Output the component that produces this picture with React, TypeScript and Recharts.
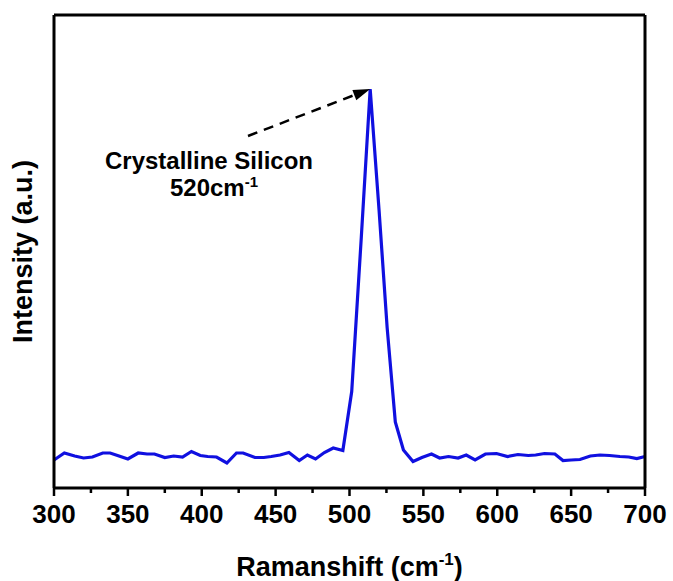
import { LineChart, Line, XAxis, YAxis, ReferenceLine } from "recharts"

// Raman spectrum, values
const ramanShift = [
  300, 307, 314, 320, 326, 333, 338, 344, 350, 357, 363, 368, 375, 381, 387, 393, 399, 404, 410, 417,
  423.5, 428, 436, 442, 447, 453, 459, 466, 471.5, 477, 483, 489, 495.5, 501.5, 508, 514, 520, 525.5,
  531, 536.5, 543, 549, 555.5, 561, 567, 573.5, 579, 585, 592, 599.5, 607, 614, 621, 626, 632, 639,
  644.5, 650, 656, 663, 669.5, 676, 683, 689, 694.5, 700,
]
const intensity = [
  28, 35, 32, 30, 31, 35, 35, 32, 29, 35, 34, 34, 30.5, 32, 31, 36.5, 32.5, 31.5, 31, 25,
  35, 35, 30.5, 30.5, 31.5, 33, 35.5, 27.5, 33, 29, 35.5, 40, 37.5, 96.5, 251, 399, 278, 160,
  66, 38, 26.5, 30.5, 34, 30, 31.5, 30, 33, 28, 34, 34.5, 31.5, 33.5, 32.5, 33, 34.5, 34,
  27.5, 28, 28.5, 32, 33, 32.5, 31.5, 31, 29.5, 31.5,
]
const xTicks = [300, 325, 350, 375, 400, 425, 450, 475, 500, 525, 550, 575, 600, 625, 650, 675, 700]
const majorTicks = [300, 350, 400, 450, 500, 550, 600, 650, 700]

const peakLabel = "Crystalline Silicon"
const arrowFrom = { x: 431.3, y: 352 }
const arrowTo = { x: 514, y: 399 }

const data = ramanShift.map((x, i) => ({ x, y: intensity[i] }))

const FONT = "'Liberation Sans', Arial, sans-serif"
const AXIS_Y = 488

function XTick(props: any) {
  const x = Number(props.x)
  const { payload } = props
  const major = majorTicks.includes(payload.value)
  return (
    <g>
      <path d={`M${x},${AXIS_Y}V${AXIS_Y + (major ? 8 : 5)}`} stroke="#000" strokeWidth={2.5} fill="none" />
      {major && (
        <text x={x} y={AXIS_Y + 35} textAnchor="middle" fontFamily={FONT} fontWeight="bold" fontSize={26} fill="#000">
          {payload.value}
        </text>
      )}
    </g>
  )
}

function XLabel(props: any) {
  const { viewBox } = props
  const cx = viewBox.x + viewBox.width / 2
  return (
    <text x={cx} y={viewBox.y + 88} textAnchor="middle" fontFamily={FONT} fontWeight="bold" fontSize={27} fill="#000">
      Ramanshift (cm
      <tspan dy={-11} fontSize={17}>-1</tspan>
      <tspan dy={11}>)</tspan>
    </text>
  )
}

function YLabel(props: any) {
  const { viewBox } = props
  const cx = 23
  const cy = viewBox.y + viewBox.height / 2
  return (
    <text
      x={cx}
      y={cy}
      transform={`rotate(-90, ${cx}, ${cy})`}
      textAnchor="middle"
      dominantBaseline="central"
      fontFamily={FONT}
      fontWeight="bold"
      fontSize={27}
      fill="#000"
    >
      Intensity (a.u.)
    </text>
  )
}

function Arrow(props: any) {
  const { x1, y1, x2, y2 } = props
  const dx = x2 - x1
  const dy = y2 - y1
  const len = Math.sqrt(dx * dx + dy * dy)
  const ux = dx / len
  const uy = dy / len
  const head = 17
  const half = 5.5
  const bx = x2 - ux * head
  const by = y2 - uy * head
  return (
    <g>
      <line x1={x1} y1={y1} x2={bx} y2={by} stroke="#000" strokeWidth={2.5} strokeDasharray="10 7" />
      <polygon
        points={`${x2},${y2} ${bx - uy * half},${by + ux * half} ${bx + uy * half},${by - ux * half}`}
        fill="#000"
      />
      <text x={x1 - 39} y={y1 + 33} textAnchor="middle" fontFamily={FONT} fontWeight="bold" fontSize={24} fill="#000">
        {peakLabel}
      </text>
      <text x={x1 - 34} y={y1 + 60} textAnchor="middle" fontFamily={FONT} fontWeight="bold" fontSize={24} fill="#000">
        520cm
        <tspan dy={-9} fontSize={15}>-1</tspan>
      </text>
    </g>
  )
}

export default function App() {
  return (
    <div style={{ position: "absolute", left: 0, top: 0, background: "#fff" }}>
      <LineChart width={673} height={581} data={data} margin={{ top: 14, right: 27, left: 14, bottom: 0 }}>
        <XAxis
          dataKey="x"
          type="number"
          domain={[300, 700]}
          ticks={xTicks}
          interval={0}
          height={93}
          tickLine={false}
          tick={<XTick />}
          axisLine={{ stroke: "#000", strokeWidth: 3 }}
          label={<XLabel />}
        />
        <XAxis
          xAxisId="top"
          dataKey="x"
          type="number"
          domain={[300, 700]}
          ticks={[300, 700]}
          orientation="top"
          height={1}
          tick={false}
          tickLine={false}
          axisLine={{ stroke: "#000", strokeWidth: 3 }}
        />
        <YAxis
          type="number"
          domain={[0, 473]}
          ticks={[0, 473]}
          width={40}
          tick={false}
          tickLine={false}
          axisLine={{ stroke: "#000", strokeWidth: 3 }}
          label={<YLabel />}
        />
        <YAxis
          yAxisId="right"
          orientation="right"
          type="number"
          domain={[0, 473]}
          ticks={[0, 473]}
          width={1}
          tick={false}
          tickLine={false}
          axisLine={{ stroke: "#000", strokeWidth: 3 }}
        />
        <Line
          type="linear"
          dataKey="y"
          stroke="#1010e0"
          strokeWidth={3.2}
          dot={false}
          isAnimationActive={false}
        />
        <ReferenceLine segment={[arrowFrom, arrowTo]} shape={<Arrow />} />
      </LineChart>
    </div>
  )
}
